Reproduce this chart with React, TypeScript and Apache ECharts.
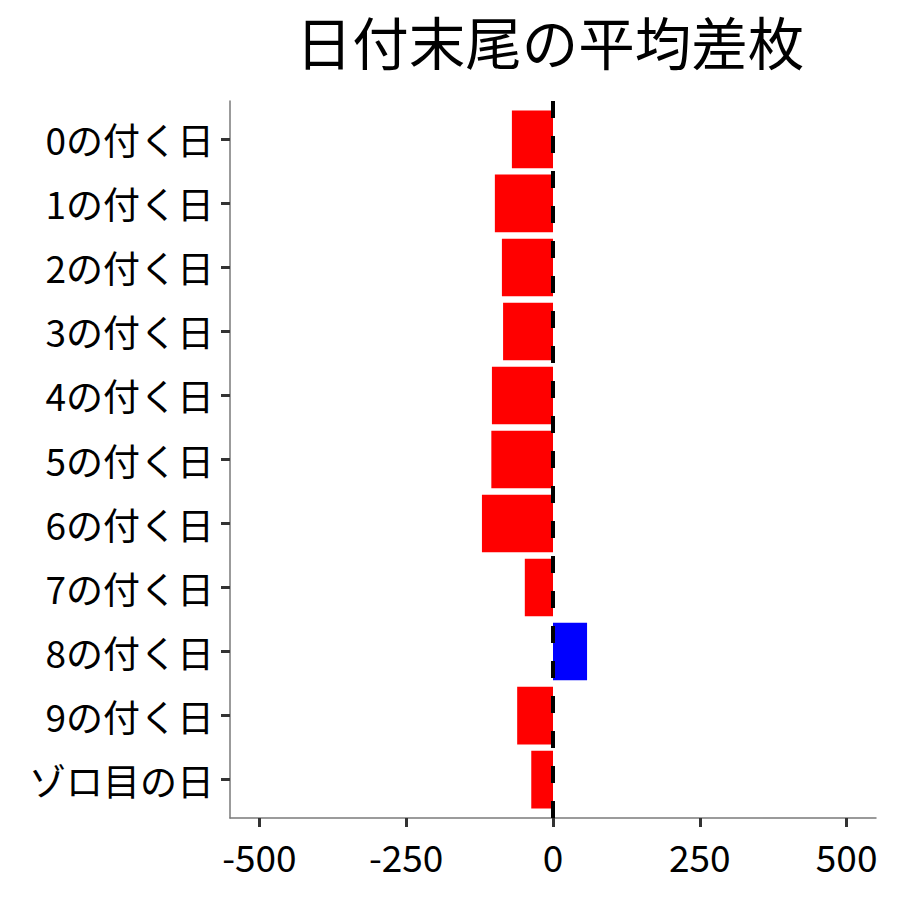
import React, { useEffect, useRef } from "react";
import * as echarts from "echarts";

const categories = [
  "0の付く日",
  "1の付く日",
  "2の付く日",
  "3の付く日",
  "4の付く日",
  "5の付く日",
  "6の付く日",
  "7の付く日",
  "8の付く日",
  "9の付く日",
  "ゾロ目の日",
];
const values = [-70, -99, -87, -85, -104, -105, -121, -48, 58, -61, -37];
const xTicks = [-500, -250, 0, 250, 500];
const titleText = "日付末尾の平均差枚";

const FONT = "'Noto Sans CJK JP', 'Noto Sans', sans-serif";

export default function App() {
  const ref = useRef<HTMLDivElement>(null);
  useEffect(() => {
    if (!ref.current) return;
    const chart = echarts.init(ref.current, null, { renderer: "svg" });
    const yIdx = categories.map((_, i) => i);
    chart.setOption({
      animation: false,
      backgroundColor: "#ffffff",
      textStyle: { fontFamily: FONT },
      title: {
        text: titleText,
        left: 545,
        textAlign: "center",
        top: 7,
        textStyle: { fontFamily: FONT, fontSize: 56.5, fontWeight: "normal", color: "#000" },
      },
      grid: { left: 230, right: 24, top: 101, bottom: 82, containLabel: false },
      xAxis: {
        type: "value",
        min: -550,
        max: 550,
        splitLine: { show: false },
        axisLine: { show: true, onZero: false, lineStyle: { color: "#7a7a7a", width: 1.5 } },
        axisTick: {
          show: true,
          customValues: xTicks,
          length: 9,
          lineStyle: { color: "#333", width: 3 },
        },
        axisLabel: {
          customValues: xTicks,
          margin: 19,
          fontSize: 37,
          color: "#000",
          fontFamily: FONT,
        },
      },
      yAxis: {
        type: "value",
        inverse: true,
        min: -0.6,
        max: 10.6,
        splitLine: { show: false },
        axisLine: { show: true, onZero: false, lineStyle: { color: "#7a7a7a", width: 1.5 } },
        axisTick: {
          show: true,
          customValues: yIdx,
          length: 9,
          lineStyle: { color: "#333", width: 3 },
        },
        axisLabel: {
          customValues: yIdx,
          margin: 16,
          fontSize: 37,
          color: "#000",
          fontFamily: FONT,
          formatter: (v: number) => categories[Math.round(v)] ?? "",
        },
      },
      series: [
        {
          type: "custom",
          data: values.map((v, i) => [v, i]),
          encode: { x: 0, y: 1 },
          renderItem: (params: any, api: any) => {
            const v = api.value(0);
            const idx = api.value(1);
            const p0 = api.coord([0, idx - 0.45]);
            const p1 = api.coord([v, idx + 0.45]);
            return {
              type: "rect",
              shape: {
                x: Math.min(p0[0], p1[0]),
                y: Math.min(p0[1], p1[1]),
                width: Math.abs(p1[0] - p0[0]),
                height: Math.abs(p1[1] - p0[1]),
              },
              style: { fill: v >= 0 ? "#0000ff" : "#ff0000" },
            };
          },
          markLine: {
            silent: true,
            symbol: "none",
            label: { show: false },
            lineStyle: { color: "#000", width: 4, type: [17, 18] },
            data: [{ xAxis: 0 }],
            z: 10,
          },
        },
      ],
    });
    return () => chart.dispose();
  }, []);
  return (
    <div
      ref={ref}
      style={{ position: "fixed", left: 0, top: 0, width: 900, height: 900, background: "#fff" }}
    />
  );
}
